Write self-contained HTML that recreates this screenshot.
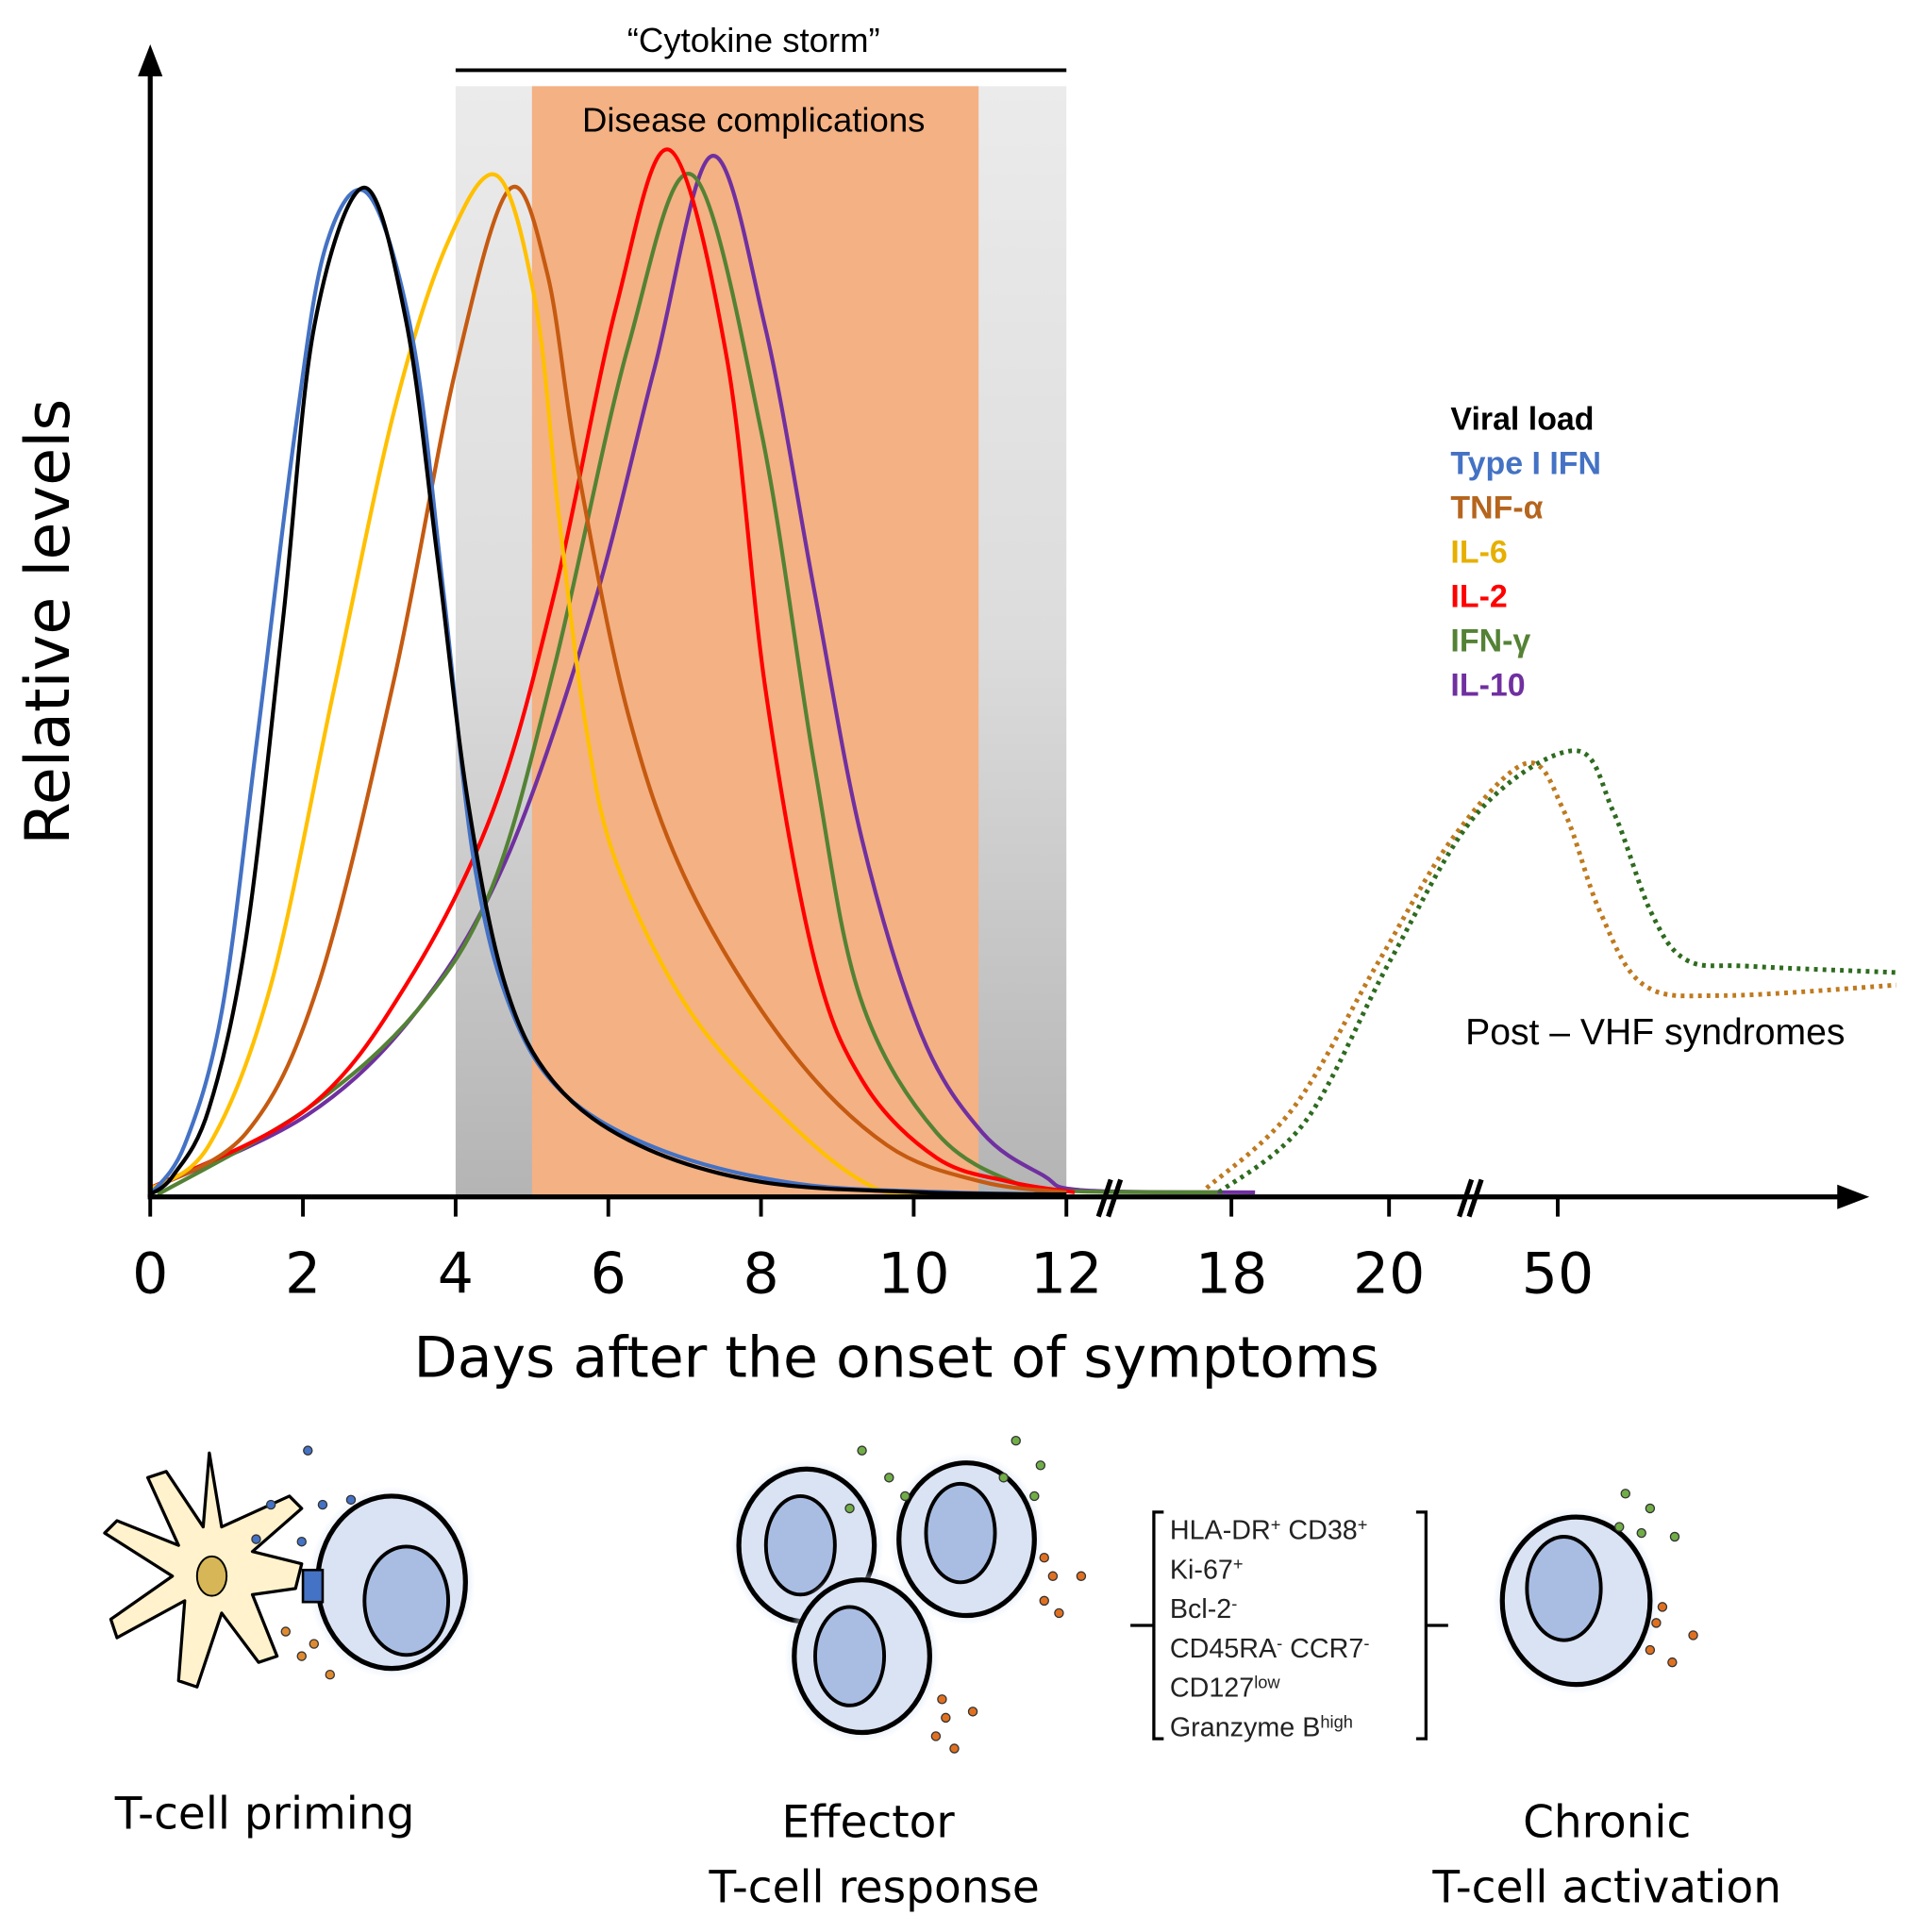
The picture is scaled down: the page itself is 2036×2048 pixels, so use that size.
<!DOCTYPE html>
<html><head><meta charset="utf-8"><style>
html,body{margin:0;padding:0;background:#fff;}
svg{display:block;font-family:"Liberation Sans","DejaVu Sans",sans-serif;}
</style></head><body>
<svg id="chart" width="2036" height="2048" viewBox="0 0 1560 1569" preserveAspectRatio="none" xmlns="http://www.w3.org/2000/svg">
<defs>
<linearGradient id="gray" x1="0" y1="0" x2="0" y2="1"><stop offset="0" stop-color="#ebebeb"/><stop offset="0.5" stop-color="#dcdcdc"/><stop offset="1" stop-color="#b4b4b4"/></linearGradient>
<radialGradient id="glow"><stop offset="0.8" stop-color="#dbe6f6"/><stop offset="1" stop-color="#dbe6f6" stop-opacity="0"/></radialGradient>
</defs>
<g id="bg"></g>
<g id="curves"></g>
<g id="axes"></g>
<g id="illus"></g>
</svg>
<script>
const ns="http://www.w3.org/2000/svg";
const svg=document.getElementById('chart');
// ---- data ----
const xTickLabels=["0","2","4","6","8","10","12","18","20","50"];
const xTickDays=[0,2,4,6,8,10,12,18,20,50];
const seriesNames=["Viral load","Type I IFN","TNF-\u03b1","IL-6","IL-2","IFN-\u03b3","IL-10"];
const viralDays=[0,0.3,0.77,1.26,1.74,2.15,2.8,3.35,3.76,4.16,4.65,5.3,6.4,8,10.1,12];
const viralVals=[0,1.8,8.2,24.7,55,83,96.2,83.5,61,37.6,20,10.6,4.7,1.2,0.2,0];
const ifnDays=[0,0.45,0.94,1.4,1.9,2.3,2.85,3.43,3.84,4.24,4.73,5.45,6.74,8.5,10.5,12];
const ifnVals=[0,4.7,17.6,43.5,73,90.6,95.6,82,57.6,31.8,17.6,9.4,4.1,1,0.2,0];
const tnfDays=[0,1.26,2.2,3.2,4,4.7,5.2,5.6,6.26,7.06,8.35,9.65,10.9,12];
const tnfVals=[0.5,5.9,20,49.4,78.8,96,88,69.4,45.9,29.4,14.1,4.7,1.2,0.2];
const il6Days=[0,0.77,1.58,2.4,3.2,3.9,4.55,5.05,5.35,5.7,6.1,7.06,8.35,9.5,10.5];
const il6Vals=[0.5,4.7,20,48,75,91,97.3,85,65,45,31.8,17.6,7,0.6,0];
const il2Days=[0,2.06,3.35,4.48,5.3,6.1,6.8,7.55,8.06,8.7,9.35,10.3,11.26,12.3];
const il2Vals=[0.6,8.2,20,36.5,57.6,84.7,99.8,80,48.2,22.4,10.6,3.5,1.2,0.2];
const ifngDays=[0.1,2.06,3.5,4.48,5.3,6.26,7.1,8,8.7,9.3,10.3,11.4,12.5,17.5];
const ifngVals=[0,8.2,17.6,29.4,50.6,81,97.4,73,41,18.8,5.9,0.9,0.3,0.2];
const il10Days=[0,2.06,3.5,4.65,5.77,6.6,7.35,8.05,8.7,9.32,10.1,10.9,11.7,12.6,18.3];
const il10Vals=[0.5,7.6,17.6,31.8,55.3,78.8,99.2,83,57.6,34,15.3,5.9,1.8,0.4,0.2];
const postTnfDays=[17.1,18.78,19.88,31.4,44.5,50.4,52.5,55.1,59.8,70];
const postTnfVals=[0.6,8.2,22.4,34.1,41.2,36.5,27,20,19,20];
const postIfngDays=[17.55,18.94,20.26,35.8,51,53.3,55.5,57.6,61.3,70];
const postIfngVals=[0.2,7,22.4,36.5,42.4,36.5,27,22.4,21.8,21.2];

// ---- scales ----
const xb=[[0,122],[12,866],[18,1000],[20,1128],[50,1265],[70,1540]];
function xs(d){for(let i=0;i<xb.length-1;i++){const a=xb[i],b=xb[i+1];if(d<=b[0]||i===xb.length-2)return a[1]+(d-a[0])*(b[1]-a[1])/(b[0]-a[0]);}}
function ys(v){return 970-v*8.5;}
function el(tag,attrs,parent){const e=document.createElementNS(ns,tag);for(const k in attrs)e.setAttribute(k,attrs[k]);(parent||svg).appendChild(e);return e;}
function txt(parent,x,y,s,size,opts){const t=el('text',Object.assign({x:x,y:y,'font-size':size},opts||{}),parent);t.textContent=s;return t;}
function path(days,vals){const p=days.map((d,i)=>[xs(d),ys(vals[i])]);let s='M'+p[0][0]+','+p[0][1];for(let i=0;i<p.length-1;i++){const p0=p[Math.max(0,i-1)],p1=p[i],p2=p[i+1],p3=p[Math.min(p.length-1,i+2)];const c1=[p1[0]+(p2[0]-p0[0])/6,p1[1]+(p2[1]-p0[1])/6],c2=[p2[0]-(p3[0]-p1[0])/6,p2[1]-(p3[1]-p1[1])/6];s+=' C'+c1[0].toFixed(1)+','+c1[1].toFixed(1)+' '+c2[0].toFixed(1)+','+c2[1].toFixed(1)+' '+p2[0].toFixed(1)+','+p2[1].toFixed(1);}return s;}

const bg=document.getElementById('bg');
let r=el('rect',{x:xs(4),y:70,width:xs(12)-xs(4),height:972-70,fill:'url(#gray)'},bg);

r=el('rect',{x:xs(5),y:70,width:xs(10.85)-xs(5),height:972-70,fill:'#f4b183'},bg);

r=el('line',{x1:xs(4),x2:xs(12),y1:57,y2:57,stroke:'#000','stroke-width':3},bg);

r=txt(bg,612,42,'\u201cCytokine storm\u201d',28,{'text-anchor':'middle'});

r=txt(bg,612,107,'Disease complications',28,{'text-anchor':'middle'});


const cg=document.getElementById('curves');
const series=[[il10Days,il10Vals,'#7030a0','il10-line'],[ifngDays,ifngVals,'#548235','ifn-gamma-line'],[il2Days,il2Vals,'#ff0000','il2-line'],[tnfDays,tnfVals,'#c55a11','tnf-alpha-line'],[il6Days,il6Vals,'#ffc000','il6-line'],[ifnDays,ifnVals,'#4472c4','type-i-ifn-line'],[viralDays,viralVals,'#000000','viral-load-line']];
series.forEach(s=>{const p=el('path',{d:path(s[0],s[1]),fill:'none',stroke:s[2],'stroke-width':3.2},cg);
});
let p=el('path',{d:path(postTnfDays,postTnfVals),fill:'none',stroke:'#bf7a1f','stroke-width':3.8,'stroke-dasharray':'3 4'},cg);

p=el('path',{d:path(postIfngDays,postIfngVals),fill:'none',stroke:'#2e6b1f','stroke-width':3.8,'stroke-dasharray':'3 4'},cg);

r=txt(cg,1190,848,'Post \u2013 VHF syndromes',30,{});


const legColors=['#000','#4472c4','#b5651d','#e6b000','#ff0000','#548235','#7030a0'];
seriesNames.forEach((n,i)=>{const t=txt(cg,1178,349+i*36,n,26,{fill:legColors[i],'font-weight':'bold'});
});

const ax=document.getElementById('axes');
r=el('line',{x1:122,y1:972,x2:122,y2:58,stroke:'#000','stroke-width':4},ax);
r=el('polygon',{points:'122,36 112,62 132,62'},ax);
r=el('line',{x1:120,y1:972,x2:1495,y2:972,stroke:'#000','stroke-width':4},ax);
r=el('polygon',{points:'1518,972 1492,962 1492,982'},ax);
xTickDays.forEach((d,i)=>{const x=xs(d);
 const l=el('line',{x1:x,x2:x,y1:972,y2:988,stroke:'#000','stroke-width':3},ax);
 
 const t=txt(ax,x,1050,xTickLabels[i],46,{'text-anchor':'middle','font-family':'DejaVu Sans, sans-serif'});
 });
[[900,958],[1193,958]].forEach(b=>{const g=el('path',{d:`M${b[0]-8},${b[1]+30} L${b[0]+2},${b[1]} M${b[0]},${b[1]+30} L${b[0]+10},${b[1]}`,stroke:'#000','stroke-width':4,fill:'none'},ax);
 });
r=txt(ax,728,1118,'Days after the onset of symptoms',46,{'text-anchor':'middle','font-family':'DejaVu Sans, sans-serif'});

r=txt(ax,0,0,'Relative levels',50,{'text-anchor':'middle','font-family':'DejaVu Sans, sans-serif',transform:'translate(56,505) rotate(-90)'});


const ig=document.getElementById('illus');
function cell(cx,cy,rx,ry,nx,ny,nrx,nry,name){const g=el('g',{},ig);
 
 el('ellipse',{cx:cx,cy:cy,rx:rx+8,ry:ry+8,fill:'url(#glow)'},g);
 el('ellipse',{cx:cx,cy:cy,rx:rx,ry:ry,fill:'#dae3f3',stroke:'#000','stroke-width':4},g);
 el('ellipse',{cx:nx,cy:ny,rx:nrx,ry:nry,fill:'#a9bde3',stroke:'#000','stroke-width':3},g);return g;}
function dots(list,color){list.forEach(d=>{const c=el('circle',{cx:d[0],cy:d[1],r:3.5,fill:color,stroke:'#333','stroke-width':1},ig);
 });}
let dc=el('path',{d:'M170,1180 L180,1240 L235,1215 L245,1225 L205,1260 L245,1270 L240,1290 L205,1295 L225,1345 L210,1350 L180,1310 L160,1370 L145,1365 L150,1300 L95,1330 L90,1315 L140,1280 L85,1245 L95,1235 L145,1255 L120,1200 L135,1195 L165,1240 Z',fill:'#fff2cc',stroke:'#000','stroke-width':2.5,'stroke-linejoin':'round'},ig);

r=el('ellipse',{cx:172,cy:1280,rx:12,ry:16,fill:'#d6b656',stroke:'#000','stroke-width':1.5},ig);
cell(318,1285,60,70,330,1300,34,44,'naive-t-cell');
r=el('rect',{x:246,y:1275,width:16,height:26,fill:'#4472c4',stroke:'#000','stroke-width':2},ig);
dots([[250,1178],[220,1222],[262,1222],[208,1250],[245,1252],[285,1218]],'#4472c4');
dots([[232,1325],[245,1345],[268,1360],[255,1335]],'#e08a2f');
cell(655,1255,55,62,650,1255,28,40,'effector-cell-1');
cell(785,1250,55,62,780,1245,28,40,'effector-cell-2');
cell(700,1345,55,62,690,1345,28,40,'effector-cell-3');
dots([[700,1178],[722,1200],[825,1170],[845,1190],[735,1215],[815,1200],[840,1215],[690,1225]],'#70ad47');
dots([[848,1265],[855,1280],[878,1280],[848,1300],[860,1310],[765,1380],[768,1395],[790,1390],[760,1410],[775,1420]],'#e07020');
cell(1280,1300,60,68,1270,1290,30,42,'chronic-t-cell');
dots([[1320,1213],[1340,1225],[1315,1240],[1333,1245],[1360,1248]],'#70ad47');
dots([[1350,1305],[1345,1318],[1375,1328],[1340,1340],[1358,1350]],'#e07020');
r=el('path',{d:'M945,1228 h-8 v184 h8 M1150,1228 h8 v184 h-8 M918,1320 h19 M1158,1320 h18',fill:'none',stroke:'#000','stroke-width':2.5},ig);

const markers=[['HLA-DR','+',' CD38','+'],['Ki-67','+'],['Bcl-2','-'],['CD45RA','-',' CCR7','-'],['CD127','low'],['Granzyme B','high']];
markers.forEach((m,i)=>{const t=el('text',{x:950,y:1250+i*32,'font-size':22,fill:'#222'},ig);
 
 for(let j=0;j<m.length;j+=2){const a=document.createElementNS(ns,'tspan');a.textContent=m[j];a.setAttribute('dy',j?7:0);t.appendChild(a);
 const b=document.createElementNS(ns,'tspan');b.textContent=m[j+1];b.setAttribute('font-size',14);b.setAttribute('dy',-7);t.appendChild(b);}});
[['T-cell priming',215,1485],['Effector',705,1492],['T-cell response',710,1545],['Chronic',1305,1492],['T-cell activation',1305,1545]].forEach(l=>{
 const t=txt(ig,l[1],l[2],l[0],36,{'text-anchor':'middle','font-family':'DejaVu Sans, sans-serif'});
 });
</script>
</body></html>
